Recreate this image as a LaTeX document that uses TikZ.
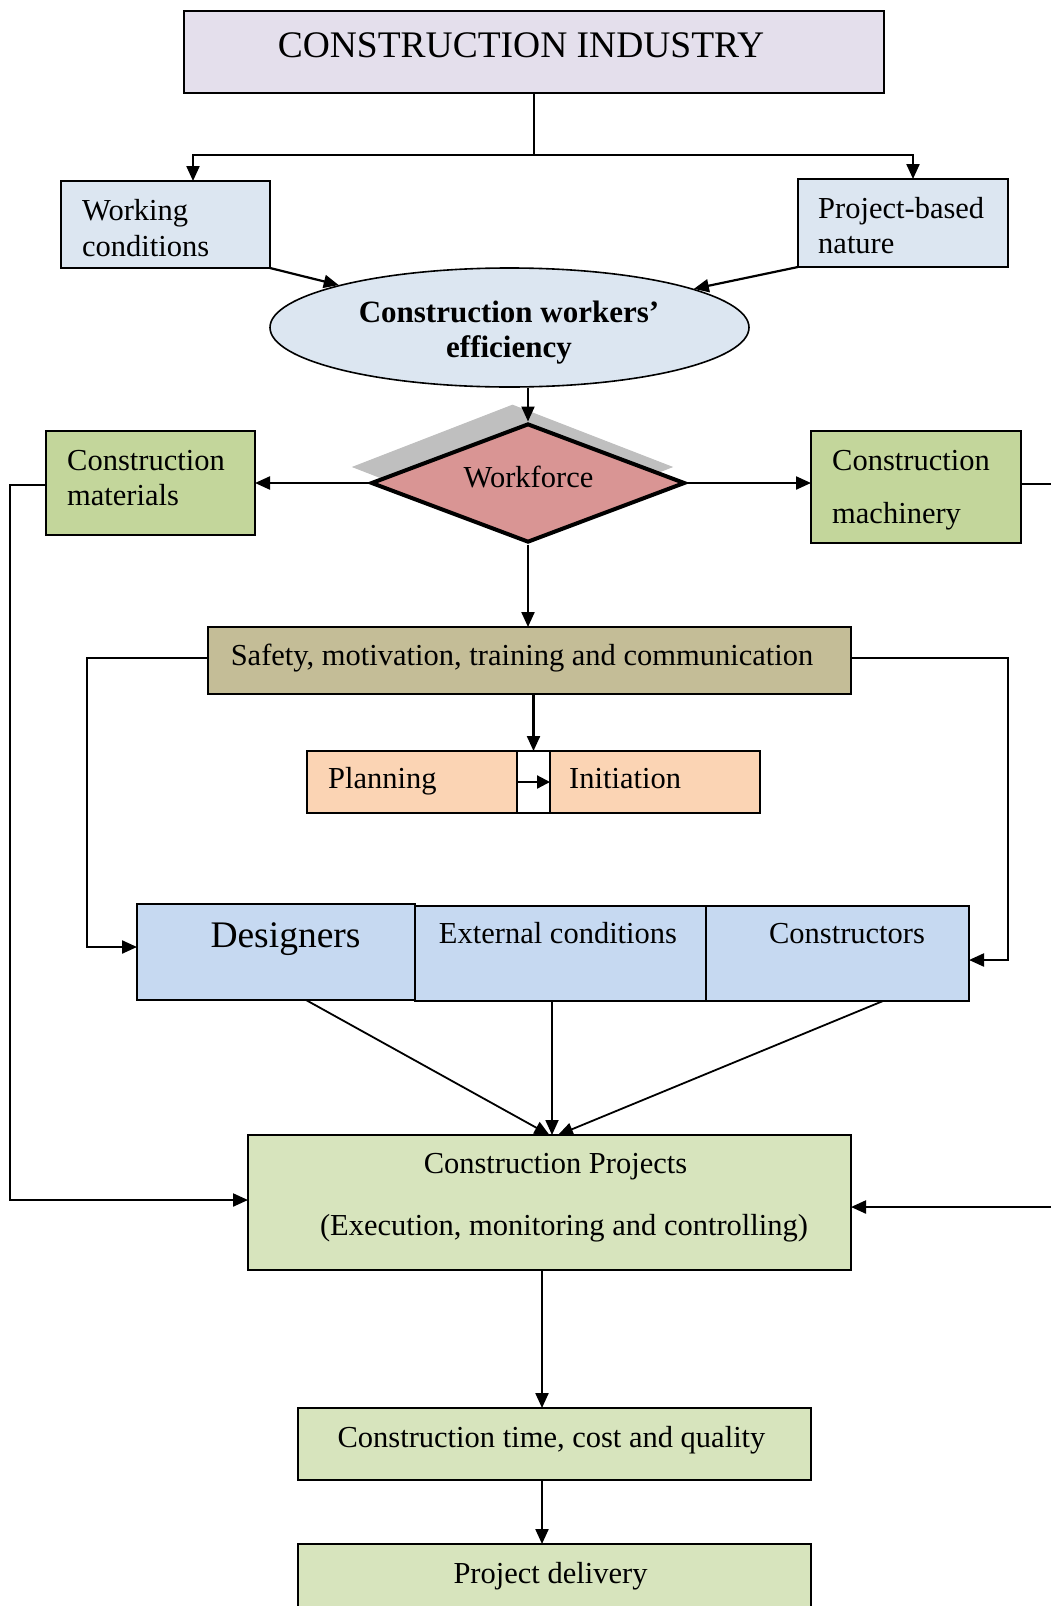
\documentclass[tikz,border=0pt]{standalone}
\usepackage{fontspec}
\setmainfont{Liberation Serif}
\usetikzlibrary{arrows.meta,shapes.geometric,calc}

\definecolor{cTop}{HTML}{E4DFEC}
\definecolor{cBlueA}{HTML}{DCE6F1}
\definecolor{cBlueB}{HTML}{C6D9F1}
\definecolor{cRed}{HTML}{D99594}
\definecolor{cGray}{HTML}{BFBFBF}
\definecolor{cGreenA}{HTML}{C3D69B}
\definecolor{cGreenB}{HTML}{D7E4BD}
\definecolor{cKhaki}{HTML}{C4BD97}
\definecolor{cPeach}{HTML}{FBD4B4}

\begin{document}
\begin{tikzpicture}[x=1pt,y=-1pt,
  box/.style={draw=black, line width=1.6pt, rectangle, inner sep=0pt, outer sep=0pt},
  txt/.style={inner sep=0pt, font=\fontsize{30.5}{36}\selectfont, anchor=base},
  txtl/.style={txt, anchor=base west},
  bigtxt/.style={txt, font=\fontsize{37.5}{42}\selectfont},
  boldtxt/.style={txt, font=\bfseries\fontsize{31}{36}\selectfont},
  conn/.style={line width=2.2pt},
  arr/.style={line width=2.2pt, -{Triangle[length=15pt,width=13pt]}},
  thinarr/.style={arr, line width=1.8pt},
]
\useasboundingbox (0,0) rectangle (1050,1606);

% ---- top of the chart
\node[box, fill=cTop, minimum width=700pt, minimum height=82pt] (top) at (534,52) {};
\node[bigtxt] (topT) at (521,57) {CONSTRUCTION INDUSTRY};

\node[box, fill=cBlueA, minimum width=209pt, minimum height=87pt] (work) at (165.5,224.5) {};
\node[txtl] (workT1) at (82,220) {Working};
\node[txtl] (workT2) at (82,256) {conditions};

\node[box, fill=cBlueA, minimum width=210pt, minimum height=88pt] (proj) at (903,223) {};
\node[txtl] (projT1) at (818,218) {Project-based};
\node[txtl] (projT2) at (818,253) {nature};

\node[ellipse, draw=black, line width=1.6pt, fill=cBlueA, minimum width=479pt,
      minimum height=119pt, inner sep=0pt] (eff) at (509.5,327.5) {};
\node[boldtxt] (effT1) at (509,322) {Construction workers’};
\node[boldtxt] (effT2) at (509,357) {efficiency};

% ---- workforce diamond with its shadow
\node[diamond, fill=cGray, draw=cGray, line width=1pt, minimum width=319pt,
      minimum height=124pt, inner sep=0pt] (wfShadow) at (512.5,467) {};
\node[diamond, fill=cRed, draw=black, line width=4pt, minimum width=314pt,
      minimum height=119pt, inner sep=0pt] (wf) at (528,483) {};
\node[txt] (wfT) at (528.5,487) {Workforce};

\node[box, fill=cGreenA, minimum width=209pt, minimum height=104pt] (mat) at (150.5,483) {};
\node[txtl] (matT1) at (67,470) {Construction};
\node[txtl] (matT2) at (67,505) {materials};

\node[box, fill=cGreenA, minimum width=210pt, minimum height=112pt] (mach) at (916,487) {};
\node[txtl] (machT1) at (832,470) {Construction};
\node[txtl] (machT2) at (832,523) {machinery};

% ---- safety and phases
\node[box, fill=cKhaki, minimum width=643pt, minimum height=67pt] (saf) at (529.5,660.5) {};
\node[txt] (safT) at (522,665) {Safety, motivation, training and communication};

\node[box, fill=cPeach, minimum width=210pt, minimum height=62pt] (plan) at (412,782) {};
\node[box, fill=white, minimum width=33pt, minimum height=62pt] (gap) at (533.5,782) {};
\node[box, fill=cPeach, minimum width=210pt, minimum height=62pt] (init) at (655,782) {};
\node[txtl] (planT) at (328,788) {Planning};
\node[txtl] (initT) at (569,788) {Initiation};

% ---- actors
\node[box, fill=cBlueB, minimum width=291pt, minimum height=95pt] (ext) at (560.5,953.5) {};
\node[box, fill=cBlueB, minimum width=263pt, minimum height=95pt] (cons) at (837.5,953.5) {};
\node[box, fill=cBlueB, line width=2pt, minimum width=278pt, minimum height=96pt] (des) at (276,952) {};
\node[bigtxt] (desT) at (285.5,947) {Designers};
\node[txt] (extT) at (558,943) {External conditions};
\node[txt] (consT) at (847,943) {Constructors};

% ---- projects and outcomes
\node[box, fill=cGreenB, minimum width=603pt, minimum height=135pt] (prj) at (549.5,1202.5) {};
\node[txt] (prjT1) at (555.5,1173) {Construction Projects};
\node[txt] (prjT2) at (564,1235) {(Execution, monitoring and controlling)};

\node[box, fill=cGreenB, minimum width=513pt, minimum height=72pt] (tcq) at (554.5,1444) {};
\node[txt] (tcqT) at (551.5,1447) {Construction time, cost and quality};

\node[box, fill=cGreenB, minimum width=513pt, minimum height=100pt] (dlv) at (554.5,1594) {};
\node[txt] (dlvT) at (550.5,1583) {Project delivery};

% ---- connectors
\coordinate (split) at (534,155);
\draw[line width=1.6pt] (top.south) -- (split);
\draw[arr] (split) -| ([xshift=27.5pt]work.north);
\draw[arr] (split) -| ([xshift=10pt]proj.north);

\draw[arr] (work.south east) -- (eff);
\draw[arr] (proj.south west) -- (eff);
\draw[arr] (eff.south -| wf.north) -- (wf.north);

\draw[arr] (wf.west) -- (wf.west -| mat.east);
\draw[arr] (wf.east) -- (wf.east -| mach.west);

\draw[arr] ([yshift=-2pt]mat.west) -- ++(-36,0) |- ([yshift=2.5pt]prj.west);
\draw[conn] ([yshift=3pt]mach.east) -- ++(40,0);
\coordinate (rin) at (1060,1207);
\draw[arr] (rin) -- (rin -| prj.east);

\draw[arr] (wf.south) -- (wf.south |- saf.north);
\draw[arr] ([yshift=2.5pt]saf.west) -- ++(-121,0) |- ([yshift=5pt]des.west);
\draw[arr] ([yshift=2.5pt]saf.east) -- ++(157,0) |- ([yshift=-6.5pt]cons.east);

\draw[arr] (saf.south -| gap.north) -- (gap.north);
\draw[arr, -{Triangle[length=13pt,width=13pt]}] (gap.west) -- (gap.east);

\draw[thinarr] ([xshift=30pt]des.south) -- (prj.north);
\draw[thinarr] ([xshift=-8.5pt]ext.south) -- ([xshift=-8.5pt]ext.south |- prj.north);
\draw[thinarr] ([xshift=45.5pt]cons.south) -- ([xshift=8.5pt]prj.north);

\draw[arr] ([xshift=-7.5pt]prj.south) -- ([xshift=-12.5pt]tcq.north);
\draw[arr] ([xshift=-12.5pt]tcq.south) -- ([xshift=-12.5pt]dlv.north);
\end{tikzpicture}
\end{document}
